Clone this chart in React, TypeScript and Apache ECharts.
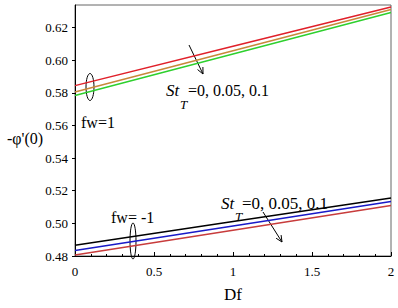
import React, { useEffect, useRef } from "react";
import * as echarts from "echarts";

const dfValues = [0, 1, 2];
const fw1St0 = [0.5844, 0.6085, 0.6326];
const fw1St005 = [0.5805, 0.6058, 0.6311];
const fw1St01 = [0.5784, 0.6038, 0.6292];
const fwm1St0 = [0.4866, 0.5011, 0.5156];
const fwm1St005 = [0.4834, 0.4984, 0.5134];
const fwm1St01 = [0.4806, 0.4958, 0.511];
const seriesColors = ["#e0202a", "#c8883a", "#2ed02e", "#000000", "#1a1ac8", "#c83c3c"];
const xTickLabels = ["0", "0.5", "1", "1.5", "2"];

function arrowHead(x1: number, y1: number, x2: number, y2: number, len: number) {
  const a = Math.atan2(y2 - y1, x2 - x1);
  const d = (25 * Math.PI) / 180;
  return [
    [x2 - len * Math.cos(a - d), y2 - len * Math.sin(a - d)],
    [x2, y2],
    [x2 - len * Math.cos(a + d), y2 - len * Math.sin(a + d)],
  ];
}

export default function App() {
  const ref = useRef<HTMLDivElement>(null);
  useEffect(() => {
    if (!ref.current) return;
    const chart = echarts.init(ref.current, null, { renderer: "svg" });
    const font = "Liberation Serif";
    const all = [fw1St0, fw1St005, fw1St01, fwm1St0, fwm1St005, fwm1St01];
    const series = all.map((arr, i) => ({
      type: "line" as const,
      data: arr.map((v, j) => [dfValues[j], v]),
      showSymbol: false,
      symbol: "none",
      lineStyle: { color: seriesColors[i], width: 1.5 },
      itemStyle: { color: seriesColors[i] },
    }));
    const upA = arrowHead(189, 45, 203, 74, 7);
    const loA = arrowHead(263, 212, 282, 242, 7);
    chart.setOption({
      animation: false,
      backgroundColor: "#ffffff",
      textStyle: { fontFamily: font },
      grid: { left: 75, right: 7, top: 5, bottom: 46, show: true, borderColor: "#666", borderWidth: 1 },
      xAxis: {
        type: "value",
        min: 0,
        max: 2,
        interval: 0.5,
        name: "Df",
        nameLocation: "middle",
        nameGap: 30,
        nameTextStyle: { fontFamily: font, fontSize: 17, color: "#000" },
        axisLine: { show: true, lineStyle: { color: "#000", width: 1 } },
        axisTick: { show: true, inside: true, length: 4, lineStyle: { color: "#000" } },
        minorTick: { show: true, splitNumber: 5, length: 2, lineStyle: { color: "#000" } },
        splitLine: { show: false },
        axisLabel: {
          fontFamily: font,
          fontSize: 13,
          color: "#000",
          margin: 9,
          formatter: (v: number) => {
            const idx = Math.round(v / 0.5);
            return xTickLabels[idx] ?? "";
          },
        },
      },
      yAxis: {
        type: "value",
        min: 0.48,
        max: 0.6338,
        interval: 0.02,
        axisLine: { show: true, lineStyle: { color: "#000", width: 1 } },
        axisTick: { show: true, inside: false, length: 3, lineStyle: { color: "#000" } },
        splitLine: { show: false },
        axisLabel: {
          fontFamily: font,
          fontSize: 13,
          color: "#000",
          margin: 7,
          showMaxLabel: false,
          formatter: (v: number) => v.toFixed(2),
        },
      },
      series,
      graphic: [
        { type: "text", x: 7, y: 138, style: { text: "-φ'(0)", fontFamily: font, fontSize: 16, fill: "#000", verticalAlign: "middle" } },
        { type: "ellipse", shape: { cx: 90, cy: 87, rx: 4, ry: 13.5 }, style: { fill: "none", stroke: "#000", lineWidth: 1 } },
        { type: "text", x: 81, y: 122, style: { text: "fw=1", fontFamily: font, fontSize: 16, fill: "#000", verticalAlign: "middle" } },
        { type: "ellipse", shape: { cx: 133, cy: 241, rx: 3, ry: 18 }, style: { fill: "none", stroke: "#000", lineWidth: 1 } },
        { type: "text", x: 111, y: 217, style: { text: "fw= -1", fontFamily: font, fontSize: 16, fill: "#000", verticalAlign: "middle" } },
        { type: "line", shape: { x1: 189, y1: 45, x2: 203, y2: 74 }, style: { stroke: "#000", lineWidth: 1 } },
        { type: "polyline", shape: { points: upA }, style: { stroke: "#000", fill: "none", lineWidth: 1 } },
        { type: "line", shape: { x1: 263, y1: 212, x2: 282, y2: 242 }, style: { stroke: "#000", lineWidth: 1 } },
        { type: "polyline", shape: { points: loA }, style: { stroke: "#000", fill: "none", lineWidth: 1 } },
        { type: "text", x: 166, y: 90, style: { text: "St", fontFamily: font, fontStyle: "italic", fontSize: 17, fill: "#000", verticalAlign: "middle" } },
        { type: "text", x: 180, y: 104, style: { text: "T", fontFamily: font, fontStyle: "italic", fontSize: 13, fill: "#000", verticalAlign: "middle" } },
        { type: "text", x: 188, y: 90, style: { text: "=0, 0.05, 0.1", fontFamily: font, fontSize: 16, fill: "#000", verticalAlign: "middle" } },
        { type: "text", x: 221, y: 203, style: { text: "St", fontFamily: font, fontStyle: "italic", fontSize: 17, fill: "#000", verticalAlign: "middle" } },
        { type: "text", x: 235, y: 216, style: { text: "T", fontFamily: font, fontStyle: "italic", fontSize: 13, fill: "#000", verticalAlign: "middle" } },
        { type: "text", x: 242, y: 203, style: { text: "=0, 0.05, 0.1", fontFamily: font, fontSize: 17, fill: "#000", verticalAlign: "middle" } },
      ],
    });
    return () => chart.dispose();
  }, []);
  return <div ref={ref} style={{ width: 398, height: 308, position: "absolute", left: 0, top: 0 }} />;
}
